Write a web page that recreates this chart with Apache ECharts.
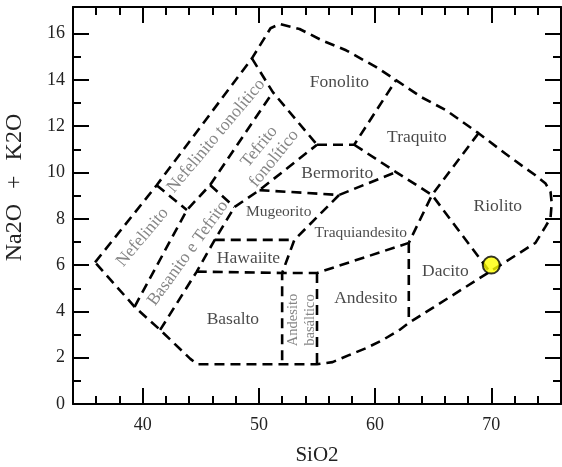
<!DOCTYPE html>
<html>
<head>
<meta charset="utf-8">
<script src="https://cdn.jsdelivr.net/npm/echarts@6/dist/echarts.min.js"></script>
<style>
html,body{margin:0;padding:0;background:#fff;}
#c{width:562px;height:467px;}
</style>
</head>
<body>
<div id="c"></div>
<script>
// ---- axis ranges & ticks ----
const xRange = [34, 76];
const yRange = [0, 17.15];
const xMajorTicks = [40, 50, 60, 70];
const xMinorTicks = [36, 38, 42, 44, 46, 48, 52, 54, 56, 58, 62, 64, 66, 68, 72, 74];
const yMajorTicks = [0, 2, 4, 6, 8, 10, 12, 14, 16];
const yMinorTicks = [1, 3, 5, 7, 9, 11, 13, 15];
const xTitle = 'SiO2';
const yTitle = 'Na2O {p|+} K2O';

// ---- field boundaries (SiO2, Na2O+K2O) ----
const outerBoundary = [
  [35.9, 6.12], [41.2, 9.45], [49.4, 14.93], [51.0, 16.23], [51.8, 16.42], [53.5, 16.2],
  [55.46, 15.7], [57.5, 15.28], [60.1, 14.55], [61.8, 13.99], [64.0, 13.25], [66.1, 12.69],
  [68.9, 11.7], [71.2, 10.82], [72.6, 10.31], [73.8, 9.88], [74.65, 9.54], [75.1, 9.16],
  [75.2, 8.68], [75.1, 8.04], [74.65, 7.65], [73.8, 6.96], [62.9, 3.5], [62.1, 3.2],
  [60.64, 2.76], [59.26, 2.42], [57.8, 2.12], [56.34, 1.81], [55.0, 1.72], [52.0, 1.72],
  [44.7, 1.72], [44.1, 1.95], [41.5, 3.2], [39.3, 4.2], [35.9, 6.12]
];
const nefelinitoTop = [[41.2, 9.45], [43.8, 8.38]];
const nefelinitoRight = [[39.3, 4.2], [43.8, 8.38], [45.8, 9.46]];
const basanitoTop = [[45.8, 9.46], [47.9, 8.51]];
const tefritoFonLeft = [[45.8, 9.46], [51.2, 13.47]];
const fonolitoLeft = [[49.4, 14.93], [51.2, 13.47], [55.0, 11.2]];
const basaltoLeft = [[41.5, 3.2], [44.65, 5.72], [46.2, 7.09], [47.9, 8.51], [50.05, 9.24], [55.0, 11.2]];
const bermoritoBottom = [[50.05, 9.24], [56.9, 9.03], [61.8, 10.02]];
const bermoritoTop = [[55.0, 11.2], [58.2, 11.2], [61.8, 13.99]];
const riolitoLeft = [[58.2, 11.2], [61.8, 10.02], [64.9, 9.03], [69.85, 5.72]];
const dacitoLeft = [[68.9, 11.7], [64.9, 9.03], [62.9, 6.96]];
const mugeoritoRight = [[56.9, 9.03], [53.05, 7.09], [52.0, 5.66], [52.0, 1.72]];
const hawaiiteTop = [[46.2, 7.09], [53.05, 7.09]];
const hawaiiteBottom = [[44.65, 5.72], [52.0, 5.66], [55.0, 5.66], [62.9, 6.96]];
const andesitoBasRight = [[55.0, 5.66], [55.0, 1.72]];
const andesitoRight = [[62.9, 6.96], [62.9, 3.5]];

// ---- field names and their anchor positions ----
const fieldNames = ['Fonolito', 'Traquito', 'Bermorito', 'Riolito', 'Mugeorito', 'Traquiandesito',
  'Hawaiite', 'Dacito', 'Andesito', 'Basalto'];
const fieldPos = [[56.93, 13.9], [63.6, 11.52], [56.74, 9.98], [70.56, 8.52], [51.7, 8.3], [58.77, 7.4],
  [49.1, 6.31], [66.05, 5.72], [59.2, 4.57], [47.76, 3.67]];
const slantNames = ['Nefelinito', 'Nefelinito tonolítico', 'Tefrito\nfonolítico', 'Basanito e Tefrito', 'Andesito\nbasáltico'];
const slantPos = [[39.98, 7.2], [46.32, 11.58], [50.67, 10.86], [43.9, 6.51], [53.65, 3.63]];

// ---- sample ----
const sample = [[70, 6]];

const serif = "'Liberation Serif', 'Times New Roman', serif";
const smallFields = {'Mugeorito': 15.5, 'Traquiandesito': 15.5};
const slantRot = {'Nefelinito': 50, 'Nefelinito tonolítico': 50, 'Tefrito\nfonolítico': 51, 'Basanito e Tefrito': 54, 'Andesito\nbasáltico': 90};
const slantSize = {'Andesito\nbasáltico': 14.5};
const slantLH = {'Andesito\nbasáltico': 17, 'Tefrito\nfonolítico': 19};

const boundaries = [outerBoundary, nefelinitoTop, nefelinitoRight, basanitoTop, tefritoFonLeft, fonolitoLeft,
  basaltoLeft, bermoritoBottom, bermoritoTop, riolitoLeft, dacitoLeft, mugeoritoRight, hawaiiteTop,
  hawaiiteBottom, andesitoBasRight, andesitoRight];

const chart = echarts.init(document.getElementById('c'), null, {renderer: 'canvas'});

function xAx(pos, ticks, len, line, labels, name) {
  return {
    type: 'value', position: pos, min: xRange[0], max: xRange[1],
    splitLine: {show: false},
    axisLine: {show: line, onZero: false, lineStyle: {color: '#000', width: 2}},
    axisTick: {show: true, inside: true, length: len, customValues: ticks, lineStyle: {color: '#000', width: 2}},
    axisLabel: labels ? {show: true, customValues: ticks, margin: 12, color: '#222', fontSize: 18, fontFamily: serif} : {show: false},
    name: name || '', nameLocation: 'middle', nameGap: 41,
    nameTextStyle: {fontFamily: serif, fontSize: 21, color: '#222'}
  };
}
function yAx(pos, ticks, len, line, labels, name) {
  return {
    type: 'value', position: pos, min: yRange[0], max: yRange[1],
    splitLine: {show: false},
    axisLine: {show: line, onZero: false, lineStyle: {color: '#000', width: 2}},
    axisTick: {show: true, inside: true, length: len, customValues: ticks, lineStyle: {color: '#000', width: 2}},
    axisLabel: labels ? {show: true, customValues: ticks, margin: 8, color: '#222', fontSize: 18, fontFamily: serif} : {show: false},
    name: name || '', nameLocation: 'middle', nameGap: 46, nameRotate: 90,
    nameTextStyle: {fontFamily: serif, fontSize: 24, color: '#222', padding: [0, 0, 0, 36],
      rich: {p: {fontFamily: serif, fontSize: 24, color: '#222', padding: [0, 9, 0, 9]}}}
  };
}

const series = boundaries.map(b => ({
  type: 'line', data: b, showSymbol: false, symbol: 'none', silent: true,
  lineStyle: {color: '#000', width: 2.6, type: [10, 6]}, z: 2, animation: false
}));

series.push({
  type: 'scatter', symbolSize: 0.1, itemStyle: {color: 'rgba(0,0,0,0)'}, animation: false, z: 3,
  data: fieldNames.map((n, i) => ({
    name: n, value: fieldPos[i],
    label: {show: true, position: 'inside', formatter: n, align: 'center', verticalAlign: 'middle',
      fontFamily: serif, fontSize: smallFields[n] || 17.5, color: '#1a1a1a'}
  }))
});
series.push({
  type: 'scatter', symbolSize: 0.1, itemStyle: {color: 'rgba(0,0,0,0)'}, animation: false, z: 3,
  data: slantNames.map((n, i) => ({
    name: n, value: slantPos[i],
    label: {show: true, position: 'inside', formatter: n, align: 'center', verticalAlign: 'middle',
      rotate: slantRot[n], fontFamily: serif, fontSize: slantSize[n] || 17.5,
      lineHeight: slantLH[n] || 20, color: '#666'}
  }))
});
series.push({
  type: 'scatter', data: sample, symbol: 'circle', symbolSize: 17, z: 5, animation: false,
  itemStyle: {color: '#ffff00', borderColor: '#000', borderWidth: 2}
});

chart.setOption({
  animation: false,
  grid: {left: 73, right: 1, top: 7, bottom: 63, containLabel: false, outerBoundsMode: 'none'},
  xAxis: [
    xAx('bottom', xMajorTicks, 16, true, true, xTitle),
    xAx('bottom', xMinorTicks, 8, false, false),
    xAx('top', xMajorTicks, 16, true, false),
    xAx('top', xMinorTicks, 8, false, false)
  ],
  yAxis: [
    yAx('left', yMajorTicks, 16, true, true, yTitle),
    yAx('left', yMinorTicks, 8, false, false),
    yAx('right', yMajorTicks, 16, true, false),
    yAx('right', yMinorTicks, 8, false, false)
  ],
  series: series
});
</script>
</body>
</html>
